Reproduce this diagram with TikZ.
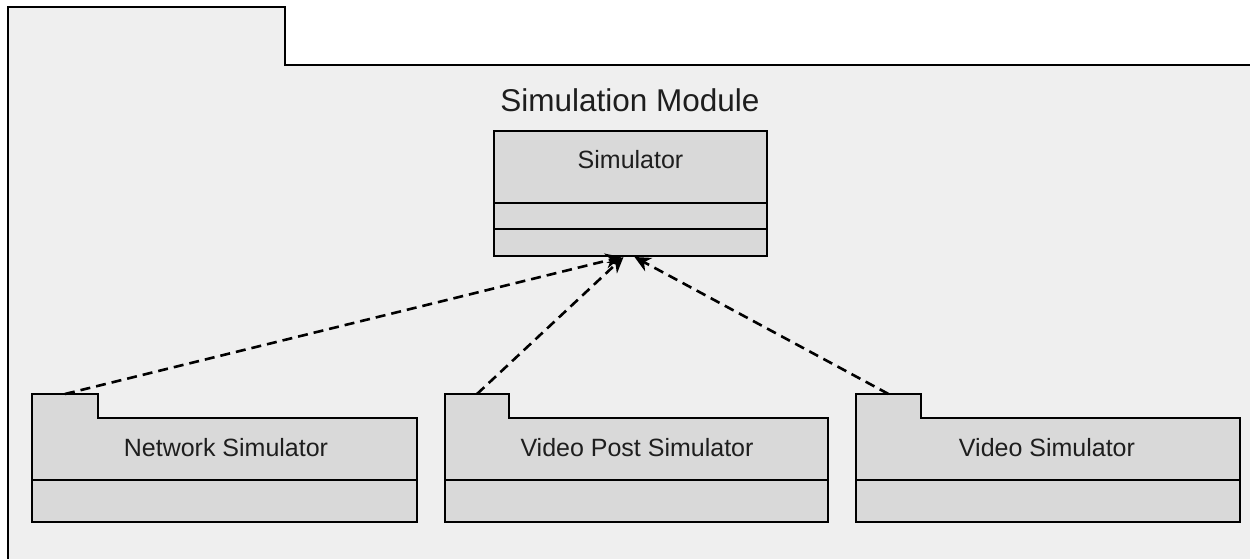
\documentclass[tikz,border=0pt]{standalone}
\usepackage{fontspec}
\setmainfont{Liberation Sans}
\usetikzlibrary{arrows.meta,calc}
\definecolor{framebg}{HTML}{EFEFEF}
\definecolor{boxbg}{HTML}{D9D9D9}
\definecolor{ink}{HTML}{1E1E1E}

\begin{document}
\begin{tikzpicture}[x=1pt,y=-1pt,line width=2.8pt,line join=miter,
  anchorbox/.style={rectangle,draw=none,inner sep=0pt,outer sep=0pt},
  lbl/.style={text=ink,inner sep=0pt,font=\fontsize{25}{30}\selectfont},
  title/.style={text=ink,inner sep=0pt,font=\fontsize{31.5}{36}\selectfont},
  dep/.style={draw=black,line width=2.6pt,dash pattern=on 10pt off 6pt,
              -{Stealth[length=16pt,width=15pt]}}]
\useasboundingbox (0,0) rectangle (1250,559);
\clip (0,0) rectangle (1250,559);
\fill[white] (0,0) rectangle (1250,559);

% module package frame (continues past the right and bottom edges)
\draw[fill=framebg] (8,620) -- (8,7) -- (285,7) -- (285,65) -- (1320,65) -- (1320,620) -- cycle;
\node[title] (module) at (630,100) {Simulation Module};

% Simulator class
\node[anchorbox,draw=black,fill=boxbg,minimum width=273pt,minimum height=125pt] (sim) at (630.5,193.5) {};
\draw ($(sim.north west)+(0,72)$) -- ($(sim.north east)+(0,72)$);
\draw ($(sim.north west)+(0,98)$) -- ($(sim.north east)+(0,98)$);
\node[lbl] (simlbl) at (630.5,160) {Simulator};

% Network Simulator package
\node[anchorbox,minimum width=385pt,minimum height=104pt] (net) at (224.5,470) {};
\node[anchorbox,minimum width=66pt,minimum height=24pt] (nettab) at (65,406) {};
\draw[fill=boxbg] (nettab.north west) -- (nettab.north east) -- (nettab.south east)
  -- (net.north east) -- (net.south east) -- (net.south west) -- cycle;
\draw ($(net.north west)+(0,62)$) -- ($(net.north east)+(0,62)$);
\node[lbl] (netlbl) at (226,448) {Network Simulator};

% Video Post Simulator package
\node[anchorbox,minimum width=383pt,minimum height=104pt] (vpost) at (636.5,470) {};
\node[anchorbox,minimum width=64pt,minimum height=24pt] (vposttab) at (477,406) {};
\draw[fill=boxbg] (vposttab.north west) -- (vposttab.north east) -- (vposttab.south east)
  -- (vpost.north east) -- (vpost.south east) -- (vpost.south west) -- cycle;
\draw ($(vpost.north west)+(0,62)$) -- ($(vpost.north east)+(0,62)$);
\node[lbl] (vpostlbl) at (637,448) {Video Post Simulator};

% Video Simulator package
\node[anchorbox,minimum width=384pt,minimum height=104pt] (video) at (1048,470) {};
\node[anchorbox,minimum width=65pt,minimum height=24pt] (videotab) at (888.5,406) {};
\draw[fill=boxbg] (videotab.north west) -- (videotab.north east) -- (videotab.south east)
  -- (video.north east) -- (video.south east) -- (video.south west) -- cycle;
\draw ($(video.north west)+(0,62)$) -- ($(video.north east)+(0,62)$);
\node[lbl] (videolbl) at (1047,448) {Video Simulator};

% dependencies into the Simulator class
\coordinate (inA) at ($(sim.south)+(-9,1)$);
\coordinate (inB) at ($(sim.south)+(-7,1)$);
\coordinate (inC) at ($(sim.south)+(4,1)$);
\draw[dep] (nettab.north) -- (inA);
\draw[dep] (vposttab.north) -- (inB);
\draw[dep] (videotab.north) -- (inC);
\end{tikzpicture}
\end{document}
